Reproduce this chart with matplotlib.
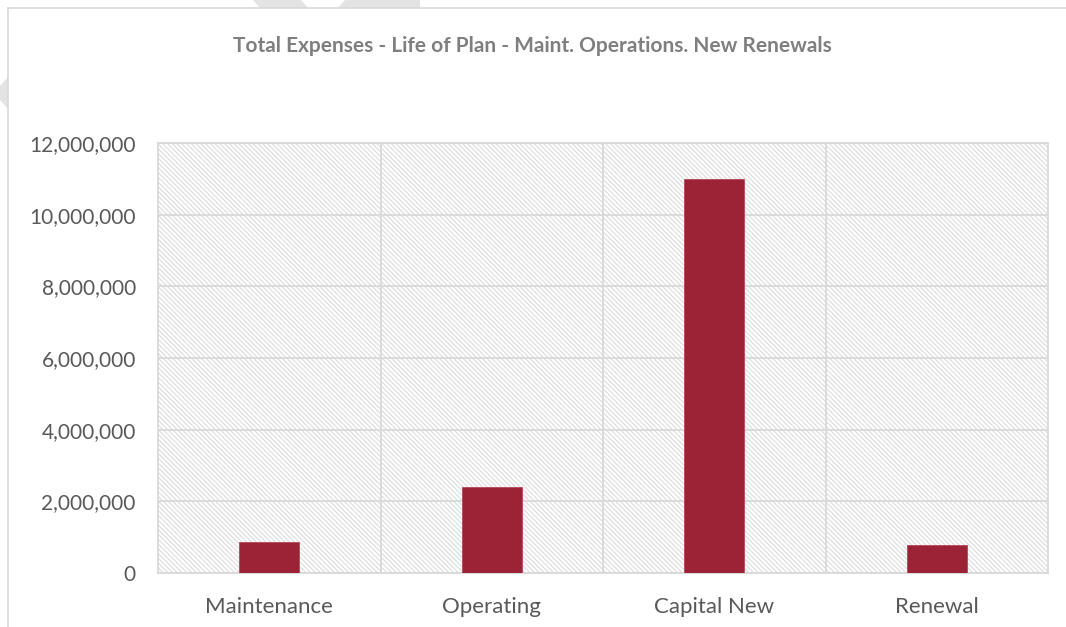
import matplotlib
matplotlib.use("Agg")
import matplotlib.pyplot as plt
from matplotlib.patches import Polygon, Rectangle
from matplotlib.ticker import FuncFormatter
import matplotlib as mpl

categories = ["Maintenance", "Operating", "Capital New", "Renewal"]
expenses = [860000, 2400000, 11000000, 790000]
y_ticks = [0, 2000000, 4000000, 6000000, 8000000, 10000000, 12000000]
title_text = "Total Expenses - Life of Plan - Maint. Operations. New Renewals"

mpl.rcParams["hatch.linewidth"] = 0.9
plt.rcParams["font.family"] = ["Lato", "DejaVu Sans"]

W, H = 1066, 627
fig = plt.figure(figsize=(W / 100, H / 100), dpi=100)
fig.patch.set_facecolor("white")

# faint background shapes peeking from behind the chart frame
def px_poly(pts, color="#e3e3e3"):
    poly = Polygon([(x / W, 1 - y / H) for x, y in pts], closed=True,
                   transform=fig.transFigure, facecolor=color, edgecolor="none", zorder=0)
    fig.patches.append(poly)

px_poly([(253, 0), (301, 0), (308, 8), (260, 8)])
px_poly([(345, 0), (420, 0), (420, 8), (338, 8)])
px_poly([(8, 77), (0, 86), (0, 100), (8, 109)])

# chart frame lines
fig.add_artist(plt.Line2D([8 / W, 8 / W], [0, 1 - 8 / H], transform=fig.transFigure,
                          color="#d9d9d9", lw=1.2))
fig.add_artist(plt.Line2D([8 / W, 1], [1 - 8 / H, 1 - 8 / H], transform=fig.transFigure,
                          color="#d9d9d9", lw=1.2))

left, right, top, bottom = 158, 1048, 143, 573
ax = fig.add_axes([left / W, 1 - bottom / H, (right - left) / W, (bottom - top) / H])

ax.set_facecolor("white")
# diagonal hatched plot-area fill
ax.add_patch(Rectangle((0, 0), 1, 1, transform=ax.transAxes, facecolor="white",
                       edgecolor="#dedede", linewidth=0, hatch="\\" * 7, zorder=0))

x = list(range(len(categories)))
ax.bar(x, expenses, width=0.27, color="#9b2335", edgecolor="#b5485a", linewidth=0.6, zorder=3)

ax.set_xlim(-0.5, len(categories) - 0.5)
ax.set_ylim(0, 12000000)
ax.set_yticks(y_ticks)
ax.yaxis.set_major_formatter(FuncFormatter(lambda v, p: f"{int(v):,}"))
ax.set_xticks(x)
ax.set_xticklabels(categories)

# grid: horizontal at value ticks, vertical at category boundaries
for v in y_ticks:
    ax.axhline(v, color="#d9d9d9", lw=1.3, zorder=1)
for b in [0.5, 1.5, 2.5]:
    ax.axvline(b, color="#d9d9d9", lw=1.3, zorder=1)

for s in ax.spines.values():
    s.set_color("#d9d9d9")
    s.set_linewidth(1.3)

ax.tick_params(axis="both", length=0, colors="#595959")
ax.tick_params(axis="y", labelsize=15, pad=16)
ax.tick_params(axis="x", labelsize=16, pad=17)

fig.text(532 / W, 1 - 46 / H, title_text, ha="center", va="center",
         fontsize=15, fontweight="bold", color="#7f7f7f")

fig.savefig("out.png", dpi=100, facecolor="white")
